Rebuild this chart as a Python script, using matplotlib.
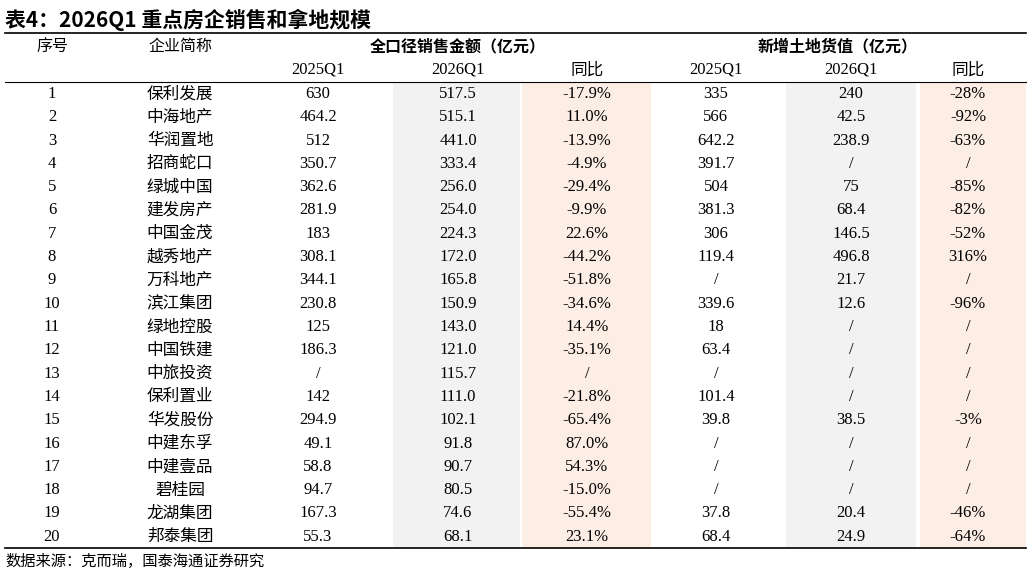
import matplotlib.pyplot as plt
from matplotlib.patches import Rectangle

plt.rcParams['font.family'] = ['Liberation Serif', 'Noto Sans CJK SC']

rank = list(range(1, 21))
names = ["保利发展", "中海地产", "华润置地", "招商蛇口", "绿城中国", "建发房产", "中国金茂",
         "越秀地产", "万科地产", "滨江集团", "绿地控股", "中国铁建", "中旅投资", "保利置业",
         "华发股份", "中建东孚", "中建壹品", "碧桂园", "龙湖集团", "邦泰集团"]
sales_2025 = ["630", "464.2", "512", "350.7", "362.6", "281.9", "183", "308.1", "344.1", "230.8",
              "125", "186.3", "/", "142", "294.9", "49.1", "58.8", "94.7", "167.3", "55.3"]
sales_2026 = ["517.5", "515.1", "441.0", "333.4", "256.0", "254.0", "224.3", "172.0", "165.8", "150.9",
              "143.0", "121.0", "115.7", "111.0", "102.1", "91.8", "90.7", "80.5", "74.6", "68.1"]
sales_yoy = ["-17.9%", "11.0%", "-13.9%", "-4.9%", "-29.4%", "-9.9%", "22.6%", "-44.2%", "-51.8%", "-34.6%",
             "14.4%", "-35.1%", "/", "-21.8%", "-65.4%", "87.0%", "54.3%", "-15.0%", "-55.4%", "23.1%"]
land_2025 = ["335", "566", "642.2", "391.7", "504", "381.3", "306", "119.4", "/", "339.6",
             "18", "63.4", "/", "101.4", "39.8", "/", "/", "/", "37.8", "68.4"]
land_2026 = ["240", "42.5", "238.9", "/", "75", "68.4", "146.5", "496.8", "21.7", "12.6",
             "/", "/", "/", "/", "38.5", "/", "/", "/", "20.4", "24.9"]
land_yoy = ["-28%", "-92%", "-63%", "/", "-85%", "-82%", "-52%", "316%", "/", "-96%",
            "/", "/", "/", "/", "-3%", "/", "/", "/", "-46%", "-64%"]

columns = [[str(r) for r in rank], names, sales_2025, sales_2026, sales_yoy, land_2025, land_2026, land_yoy]
col_x = [52, 180, 318, 458, 587, 716, 851, 968]

fig = plt.figure(figsize=(10.31, 5.79), dpi=100)
ax = fig.add_axes([0, 0, 1, 1])
ax.set_xlim(0, 1031)
ax.set_ylim(579, 0)
ax.axis('off')

row_h = 23.3
y0 = 94
# shaded columns
gray, pink = '#f2f2f2', '#fdeee5'
for x1, x2, c in [(393, 520, gray), (522, 651, pink), (786, 916, gray), (920, 1026, pink)]:
    ax.add_patch(Rectangle((x1, y0 - row_h / 2), x2 - x1, row_h * 20, color=c, lw=0, zorder=0))

ax.text(5, 20, "表4：2026Q1 重点房企销售和拿地规模", fontsize=15, fontweight='bold', va='center',
        family=['Noto Sans CJK SC'])
ax.plot([5, 1026], [33, 33], color='black', lw=1.2)
ax.plot([5, 1026], [82, 82], color='black', lw=0.8)
ax.plot([5, 1026], [548, 548], color='black', lw=1.2)

cjk = ['Noto Sans CJK SC']
ax.text(col_x[0], 46, "序号", ha='center', va='center', fontsize=11.5, family=cjk)
ax.text(col_x[1], 46, "企业简称", ha='center', va='center', fontsize=11.5, family=cjk)
ax.text(458, 46, "全口径销售金额（亿元）", ha='center', va='center', fontsize=11.5, fontweight='bold', family=cjk)
ax.text(838, 46, "新增土地货值（亿元）", ha='center', va='center', fontsize=11.5, fontweight='bold', family=cjk)
for x, t in zip(col_x[2:], ["2025Q1", "2026Q1", "同比"] * 2):
    ax.text(x, 70, t, ha='center', va='center', fontsize=12,
            family=cjk if t == "同比" else ['Liberation Serif'])

for j, col in enumerate(columns):
    for i, v in enumerate(col):
        ax.text(col_x[j], y0 + i * row_h, v, ha='center', va='center', fontsize=12,
                family=cjk if j == 1 else ['Liberation Serif'])

ax.text(5, 561, "数据来源：克而瑞，国泰海通证券研究", fontsize=11, va='center', family=cjk)

fig.savefig('out.png', dpi=100)
